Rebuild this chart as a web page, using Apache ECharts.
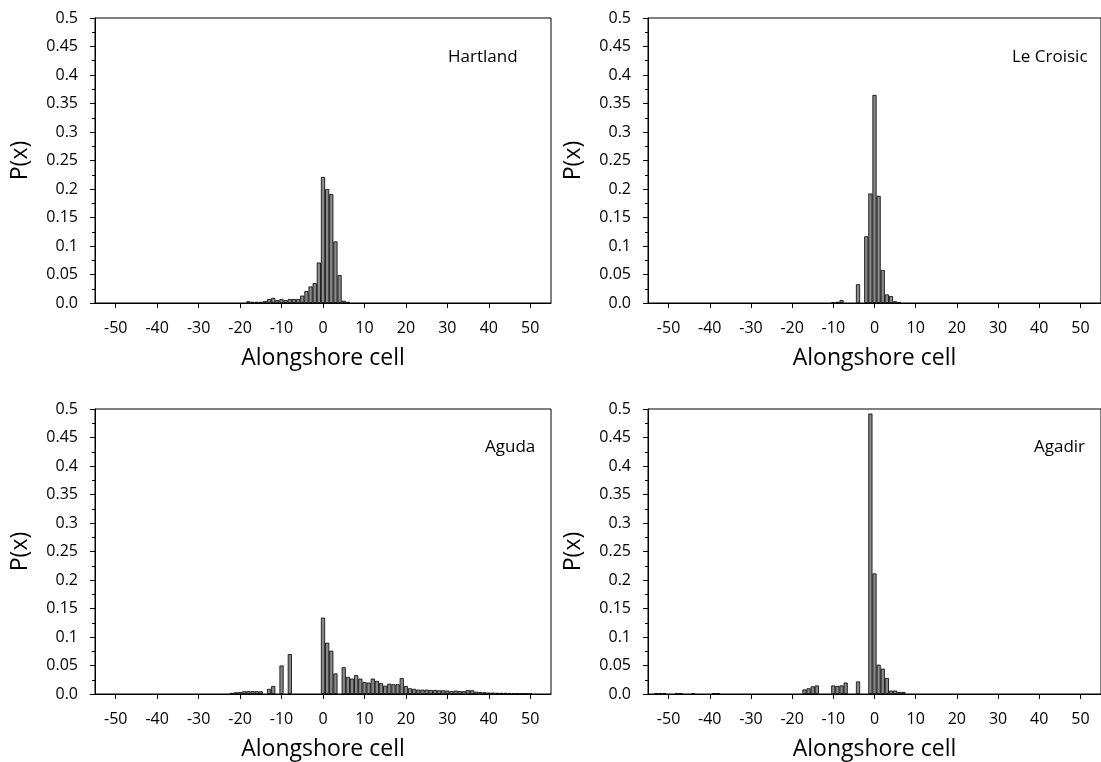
<!DOCTYPE html>
<html>
<head>
<meta charset="utf-8">
<title>Alongshore cell P(x)</title>
<script src="https://cdn.jsdelivr.net/npm/echarts@6/dist/echarts.min.js"></script>
<style>
  html, body { margin: 0; padding: 0; background: #fff; }
  #chart { width: 1101px; height: 762px; }
</style>
</head>
<body>
<div id="chart"></div>
<script>
// alongshore cells on the x axis
var cells = [-55, -54, -53, -52, -51, -50, -49, -48, -47, -46, -45, -44, -43, -42, -41, -40,
  -39, -38, -37, -36, -35, -34, -33, -32, -31, -30, -29, -28, -27, -26, -25, -24, -23, -22, -21, -20,
  -19, -18, -17, -16, -15, -14, -13, -12, -11, -10, -9, -8, -7, -6, -5, -4, -3, -2, -1, 0,
  1, 2, 3, 4, 5, 6, 7, 8, 9, 10, 11, 12, 13, 14, 15, 16, 17, 18, 19, 20,
  21, 22, 23, 24, 25, 26, 27, 28, 29, 30, 31, 32, 33, 34, 35, 36, 37, 38, 39, 40,
  41, 42, 43, 44, 45, 46, 47, 48, 49, 50, 51, 52, 53, 54, 55];
var xTicks = [-50, -40, -30, -20, -10, 0, 10, 20, 30, 40, 50];
var yTickLabels = ["0.0", "0.05", "0.1", "0.15", "0.2", "0.25", "0.3", "0.35", "0.4", "0.45", "0.5"];

// Hartland
var hartlandCells = [-18, -17, -16, -15, -14, -13, -12, -11, -10, -9, -8, -7, -6, -5, -4, -3, -2, -1, 0, 1, 2, 3, 4, 5, 6];
var hartlandP = [0.003, 0.002, 0.002, 0.002, 0.0035, 0.007, 0.009, 0.005, 0.007, 0.005, 0.007, 0.007, 0.007,
  0.013, 0.021, 0.029, 0.035, 0.071, 0.221, 0.200, 0.191, 0.108, 0.049, 0.004, 0.002];

// Le Croisic
var croisicCells = [-10, -9, -8, -4, -2, -1, 0, 1, 2, 3, 4, 5, 6];
var croisicP = [0.001, 0.002, 0.005, 0.033, 0.117, 0.192, 0.365, 0.188, 0.058, 0.015, 0.012, 0.003, 0.001];

// Aguda
var agudaCells = [-22, -21, -20, -19, -18, -17, -16, -15, -13, -12, -10, -8,
  0, 1, 2, 3, 5, 6, 7, 8, 9, 10, 11, 12, 13, 14, 15, 16, 17, 18, 19, 20,
  21, 22, 23, 24, 25, 26, 27, 28, 29, 30, 31, 32, 33, 34, 35, 36, 37, 38, 39, 40,
  41, 42, 43, 44, 45, 46, 47, 48, 49, 50];
var agudaP = [0.002, 0.003, 0.0035, 0.0047, 0.005, 0.005, 0.005, 0.0047, 0.009, 0.014, 0.050, 0.070,
  0.134, 0.090, 0.076, 0.036, 0.047, 0.030, 0.027, 0.033, 0.027, 0.021, 0.020, 0.027, 0.023, 0.019, 0.0145, 0.018, 0.017, 0.017, 0.028, 0.014,
  0.010, 0.009, 0.0076, 0.0076, 0.0076, 0.007, 0.007, 0.0065, 0.0065, 0.006, 0.005, 0.006, 0.005, 0.005, 0.007, 0.0065, 0.004, 0.0035, 0.003, 0.0025,
  0.0025, 0.002, 0.002, 0.002, 0.0015, 0.0015, 0.001, 0.001, 0.001, 0.0005];

// Agadir
var agadirCells = [-53, -52, -51, -48, -47, -44, -39, -38, -17, -16, -15, -14, -10, -9, -8, -7, -4,
  -1, 0, 1, 2, 3, 4, 5, 6, 7];
var agadirP = [0.0015, 0.0015, 0.0015, 0.0015, 0.0015, 0.001, 0.0015, 0.0015, 0.008, 0.010, 0.0134, 0.015, 0.015, 0.014, 0.015, 0.020, 0.022,
  0.492, 0.2115, 0.0514, 0.0444, 0.028, 0.006, 0.006, 0.0035, 0.0035];

var panels = [
  { name: "Hartland", cells: hartlandCells, p: hartlandP, left: 95, top: 18, tx: 448, ty: 49 },
  { name: "Le Croisic", cells: croisicCells, p: croisicP, left: 648, top: 18, tx: 1012, ty: 49 },
  { name: "Aguda", cells: agudaCells, p: agudaP, left: 95, top: 409, tx: 485, ty: 439 },
  { name: "Agadir", cells: agadirCells, p: agadirP, left: 648, top: 409, tx: 1034, ty: 439 }
];

var font = "Open Sans";
var gridW = 456;
function isTick(idx, val) {
  return xTicks.indexOf(Number(val)) >= 0;
}

var option = {
  animation: false,
  backgroundColor: "#fff",
  title: [],
  grid: [],
  xAxis: [],
  yAxis: [],
  series: []
};

panels.forEach(function (pn, i) {
  option.title.push({
    text: pn.name, left: pn.tx, top: pn.ty, padding: 0,
    textStyle: { fontFamily: font, fontSize: 17, fontWeight: "normal", color: "#000" }
  });
  option.grid.push({
    left: pn.left, top: pn.top, width: gridW, height: 285,
    show: true, borderColor: "#000", borderWidth: 1, backgroundColor: "transparent"
  });
  option.xAxis.push({
    type: "category",
    gridIndex: i,
    data: cells.map(String),
    boundaryGap: false,
    name: "Alongshore cell",
    nameLocation: "middle",
    nameGap: 44,
    nameTextStyle: { fontFamily: font, fontSize: 23, color: "#000" },
    axisLine: { lineStyle: { color: "#000", width: 1 } },
    axisTick: { interval: isTick, length: 5, lineStyle: { color: "#000" } },
    axisLabel: { interval: isTick, margin: 17, fontFamily: font, fontSize: 16, color: "#000" },
    splitLine: { show: false }
  });
  option.yAxis.push({
    type: "value",
    gridIndex: i,
    min: 0,
    max: 0.5,
    interval: 0.05,
    name: "P(x)",
    nameLocation: "middle",
    nameGap: 63,
    nameTextStyle: { fontFamily: font, fontSize: 23, color: "#000" },
    axisLine: { show: true, lineStyle: { color: "#000", width: 1 } },
    axisTick: { show: true, length: 5, lineStyle: { color: "#000" } },
    minorTick: { show: true, splitNumber: 2, length: 3, lineStyle: { color: "#000" } },
    axisLabel: {
      margin: 17, fontFamily: font, fontSize: 16, color: "#000",
      formatter: function (v) { return yTickLabels[Math.round(v / 0.05)]; }
    },
    splitLine: { show: false }
  });
  option.series.push({
    type: "bar",
    xAxisIndex: i,
    yAxisIndex: i,
    barWidth: gridW / (cells.length - 1),
    itemStyle: { color: "#888888", borderColor: "#000", borderWidth: 0.8 },
    data: pn.cells.map(function (c, k) { return [String(c), pn.p[k]]; })
  });
});

var myChart = echarts.init(document.getElementById("chart"));
myChart.setOption(option);
</script>
</body>
</html>
